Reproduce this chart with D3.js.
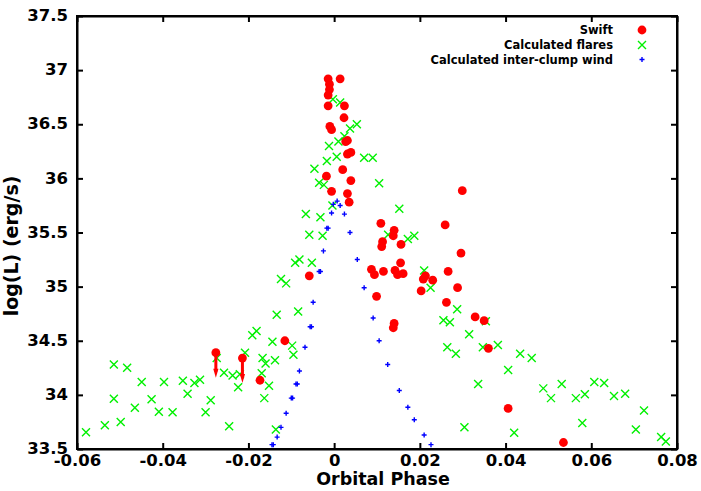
<!DOCTYPE html>
<html>
<head>
<meta charset="utf-8">
<script src="https://cdn.jsdelivr.net/npm/d3@7"></script>
<style>
    body { margin: 0; background: #fff; }
    text { font-family: "DejaVu Sans", sans-serif; font-weight: bold; fill: #000; }
    .axis path, .axis line { stroke: #000; stroke-width: 2; }
</style>
</head>
<body>
<div id="chart"></div>
<script>

// Swift points: [phase, log L]
let swiftX = [-0.0276, -0.0214, -0.0173, -0.0115, -0.0058, -0.0014, 0.0014, -0.0011, -0.0011, -0.0014,
    -0.0014, 0.0024, 0.0023, -0.0010, -0.0006, 0.0031, 0.0027, 0.0039, 0.0031, 0.0020,
    -0.0018, 0.0039, -0.0006, 0.0031, 0.0035, 0.0109, 0.0259, 0.0140, 0.0138, 0.0113,
    0.0156, 0.0111, 0.0155, 0.0087, 0.0094, 0.0115, 0.0142, 0.0148, 0.0161, 0.0208,
    0.0213, 0.0230, 0.0203, 0.0099, 0.0140, 0.0138, 0.0296, 0.0266, 0.0288, 0.0262,
    0.0329, 0.0350, 0.0360, 0.0406, 0.0535, 0.0299];
let swiftY = [34.39, 34.34, 34.135, 34.50, 35.10, 36.92, 36.92, 36.87, 36.82, 36.77,
    36.67, 36.67, 36.56, 36.48, 36.45, 36.35, 36.34, 36.24, 36.225, 36.08,
    36.02, 35.98, 35.88, 35.86, 35.78, 35.585, 35.57, 35.52, 35.47, 35.415,
    35.39, 35.37, 35.22, 35.16, 35.11, 35.14, 35.15, 35.11, 35.12, 35.07,
    35.10, 35.06, 34.96, 34.91, 34.66, 34.62, 35.31, 35.14, 34.99, 34.855,
    34.72, 34.685, 34.43, 33.875, 33.56, 35.886];
// upper limits (drawn with a down arrow)
let swiftLimit = [true, true];

let flareX = [-0.0579, -0.0535, -0.0514, -0.0514, -0.0498, -0.0483, -0.0465, -0.0449, -0.0426, -0.0409,
    -0.0397, -0.0377, -0.0353, -0.0342, -0.0326, -0.0313, -0.0300, -0.0288, -0.0274, -0.0257,
    -0.0245, -0.0237, -0.0224, -0.0220, -0.0208, -0.0191, -0.0181, -0.0169, -0.0167, -0.0163,
    -0.0160, -0.0152, -0.0144, -0.0138, -0.0134, -0.0136, -0.0124, -0.0112, -0.0098, -0.0095,
    -0.0091, -0.0081, -0.0084, -0.0052,
    -0.0003, 0.0014, 0.0053, 0.0037, 0.0024, 0.0010, -0.0012, -0.0017, 0.0006, 0.0070,
    0.0090, -0.0046, -0.0035, -0.0024, 0.0105, -0.0004, -0.0066, -0.0032, 0.0152, -0.0058,
    -0.0027, 0.0126, 0.0172, 0.0187,
    0.0210, 0.0225, 0.0287, 0.0255, 0.0270, 0.0354, 0.0315, 0.0264, 0.0284, 0.0347,
    0.0382, 0.0434, 0.0461, 0.0406, 0.0336, 0.0488, 0.0506, 0.0531, 0.0564, 0.0585,
    0.0607, 0.0630, 0.0653, 0.0679, 0.0723, 0.0304, 0.0420, 0.0579, 0.0704, 0.0763, 0.0774];
let flareY = [33.654, 33.72, 33.965, 34.28, 33.75, 34.25, 33.88, 34.12, 33.96, 33.845,
    34.12, 33.84, 34.13, 34.01, 34.11, 34.14, 33.84, 33.95, 34.34, 34.205,
    33.71, 34.18, 34.07, 34.19, 34.39, 34.55, 34.59, 34.20, 34.34, 33.97,
    34.29, 34.085, 34.49, 34.32, 34.74, 33.68, 35.07, 35.03, 34.455, 34.37,
    35.22, 35.25, 34.77, 35.22,
    36.73, 36.70, 36.50, 36.46, 36.39, 36.34, 36.30, 36.16, 36.20, 36.19,
    36.19, 36.09, 35.96, 35.94, 35.955, 35.75, 35.67, 35.64, 35.72, 35.48,
    35.47, 35.48, 35.44, 35.47,
    35.15, 34.99, 34.79, 34.69, 34.67, 34.68, 34.56, 34.44, 34.38, 34.44,
    34.46, 34.38, 34.34, 34.23, 34.10, 34.06, 33.97, 34.10, 33.97, 34.005,
    34.12, 34.11, 33.99, 34.01, 33.855, 33.70, 33.65, 33.74, 33.68, 33.61, 33.57];

let windX = [-0.0145, -0.0142, -0.0133, -0.0124, -0.0112, -0.0100, -0.0097, -0.0089, -0.0086, -0.0081,
    -0.0068, -0.0056, -0.0053, -0.0049, -0.0035, -0.0032, -0.0025, -0.0017, -0.0014, -0.0006,
    -0.0002, 0.0007, 0.0014, 0.0024, 0.0037, 0.0054, 0.0070, 0.0091, 0.0105, 0.0125,
    0.0152, 0.0172, 0.0187, 0.0210, 0.0226];
let windY = [33.54, 33.54, 33.61, 33.70, 33.83, 33.97, 33.97, 34.10, 34.10, 34.22,
    34.44, 34.63, 34.63, 34.855, 35.14, 35.14, 35.33, 35.54, 35.54, 35.68,
    35.76, 35.79, 35.75, 35.67, 35.50, 35.25, 34.99, 34.71, 34.50, 34.28,
    34.04, 33.885, 33.77, 33.63, 33.54];

let xTicks = [-0.06, -0.04, -0.02, 0, 0.02, 0.04, 0.06, 0.08];
let yTicks = [33.5, 34, 34.5, 35, 35.5, 36, 36.5, 37, 37.5];
let legendLabels = ["Swift", "Calculated flares", "Calculated inter-clump wind"];

const RED = "#ff0000", GREEN = "#00f000", BLUE = "#0000ff";

class phasePlot {

    constructor(opts) {
        this.element = opts.element;
        this.margin = { top: 16, right: 24, bottom: 42, left: 77 };
        this.width = 701 - this.margin.left - this.margin.right;
        this.height = 491 - this.margin.top - this.margin.bottom;
        this._setScales();
        this.draw();
    }

    _setScales() {
        this.xScale = d3.scaleLinear().domain([-0.06, 0.08]).range([0, this.width]);
        this.yScale = d3.scaleLinear().domain([33.5, 37.5]).range([this.height, 0]);
    }

    draw() {
        this.svg = d3.select(this.element).append("svg")
            .attr("width", 701)
            .attr("height", 491);

        this.plot = this.svg.append("g")
            .attr("transform", `translate(${this.margin.left},${this.margin.top})`);

        this.plot.append("clipPath").attr("id", "clip")
            .append("rect").attr("width", this.width).attr("height", this.height);

        let fmtX = d => d === 0 ? "0" : d3.format(".2f")(d).replace("−", "-");
        let fmtY = d => d3.format("")(d);

        // mirrored inward ticks on all four sides
        let bottom = this.plot.append("g").attr("class", "axis")
            .attr("transform", `translate(0,${this.height})`)
            .call(d3.axisBottom(this.xScale).tickValues(xTicks).tickSize(-6).tickSizeOuter(0).tickFormat(fmtX));
        this.plot.append("g").attr("class", "axis")
            .call(d3.axisTop(this.xScale).tickValues(xTicks).tickSize(-6).tickSizeOuter(0).tickFormat(""));
        let left = this.plot.append("g").attr("class", "axis")
            .call(d3.axisLeft(this.yScale).tickValues(yTicks).tickSize(-6).tickSizeOuter(0).tickFormat(fmtY).tickPadding(9));
        this.plot.append("g").attr("class", "axis")
            .attr("transform", `translate(${this.width},0)`)
            .call(d3.axisRight(this.yScale).tickValues(yTicks).tickSize(-6).tickSizeOuter(0).tickFormat(""));

        bottom.selectAll("text").style("font-size", "16.5px").attr("dy", "0.71em").attr("y", 5.5);
        left.selectAll("text").style("font-size", "16.5px").attr("dy", "0.28em");

        this.plot.append("rect")
            .attr("width", this.width).attr("height", this.height)
            .attr("fill", "none").attr("stroke", "#000").attr("stroke-width", 2);

        // axis labels
        this.svg.append("text")
            .attr("x", 383).attr("y", 485)
            .attr("text-anchor", "middle")
            .style("font-size", "17.5px")
            .text("Orbital Phase");

        this.svg.append("text")
            .attr("transform", "translate(18,246) rotate(-90)")
            .attr("text-anchor", "middle")
            .style("font-size", "19px")
            .text("log(L) (erg/s)");

        this.drawPoints();
        this.drawLegend();
    }

    drawPoints() {
        let g = this.plot.append("g").attr("clip-path", "url(#clip)");
        let flares = flareX.map((x, i) => ({ x: x, y: flareY[i] }));
        let wind = windX.map((x, i) => ({ x: x, y: windY[i] }));
        let swift = swiftX.map((x, i) => ({ x: x, y: swiftY[i], limit: !!swiftLimit[i] }));

        g.selectAll(".flare")
            .data(flares)
            .enter().append("path")
            .attr("class", "flare")
            .attr("transform", d => `translate(${this.xScale(d.x)},${this.yScale(d.y)})`)
            .attr("d", "M-4,-4L4,4M-4,4L4,-4")
            .attr("stroke", GREEN).attr("stroke-width", 1.4).attr("fill", "none");

        g.selectAll(".wind")
            .data(wind)
            .enter().append("path")
            .attr("class", "wind")
            .attr("transform", d => `translate(${this.xScale(d.x)},${this.yScale(d.y)})`)
            .attr("d", "M-2.5,0L2.5,0M0,-2.5L0,2.5")
            .attr("stroke", BLUE).attr("stroke-width", 1.4).attr("fill", "none");

        // upper-limit arrows
        let lims = swift.filter(d => d.limit);
        g.selectAll(".lim-line")
            .data(lims)
            .enter().append("line")
            .attr("x1", d => this.xScale(d.x)).attr("x2", d => this.xScale(d.x))
            .attr("y1", d => this.yScale(d.y)).attr("y2", d => this.yScale(d.y) + 19)
            .attr("stroke", RED).attr("stroke-width", 3);
        g.selectAll(".lim-head")
            .data(lims)
            .enter().append("path")
            .attr("transform", d => `translate(${this.xScale(d.x)},${this.yScale(d.y) + 25})`)
            .attr("d", "M0,0L-2.6,-9L2.6,-9Z")
            .attr("fill", RED);

        g.selectAll(".dot")
            .data(swift)
            .enter().append("circle")
            .attr("class", "dot")
            .attr("cx", d => this.xScale(d.x))
            .attr("cy", d => this.yScale(d.y))
            .attr("r", 4.4)
            .attr("fill", RED);
    }

    drawLegend() {
        let lg = this.svg.append("g");
        let textX = 613, symX = 642, rows = [34, 49, 63.5];

        lg.selectAll("text")
            .data(legendLabels)
            .enter().append("text")
            .attr("x", textX)
            .attr("y", (d, i) => rows[i])
            .attr("text-anchor", "end")
            .style("font-size", "11.5px")
            .text(d => d);

        lg.append("circle").attr("cx", symX).attr("cy", rows[0] - 4).attr("r", 4.4).attr("fill", RED);
        lg.append("path")
            .attr("transform", `translate(${symX},${rows[1] - 4})`)
            .attr("d", "M-4,-4L4,4M-4,4L4,-4")
            .attr("stroke", GREEN).attr("stroke-width", 1.4);
        lg.append("path")
            .attr("transform", `translate(${symX},${rows[2] - 4})`)
            .attr("d", "M-2.5,0L2.5,0M0,-2.5L0,2.5")
            .attr("stroke", BLUE).attr("stroke-width", 1.4);
    }
}

new phasePlot({ element: document.getElementById("chart") });

</script>
</body>
</html>
